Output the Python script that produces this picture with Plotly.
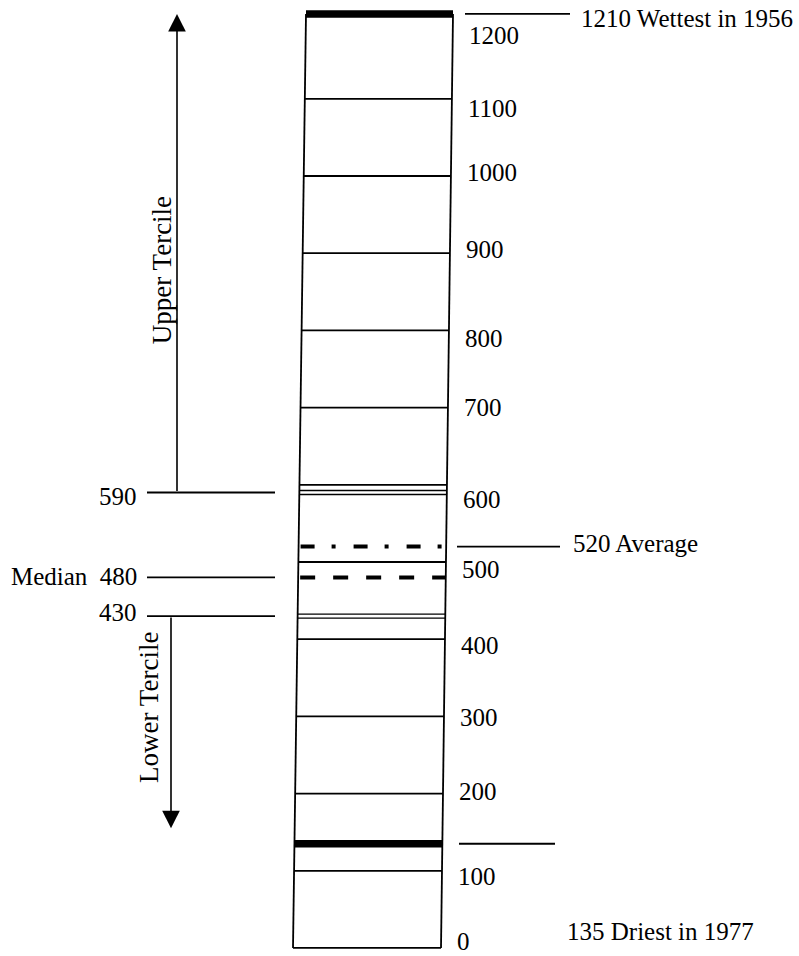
import plotly.graph_objects as go

# ---------------- data ----------------
grid_levels = [100, 200, 300, 400, 500, 600, 700, 800, 900, 1000, 1100]
tick_values = [0, 100, 200, 300, 400, 500, 600, 700, 800, 900, 1000, 1100, 1200]
tick_labels = ["0", "100", "200", "300", "400", "500", "600", "700", "800", "900", "1000", "1100", "1200"]
wettest = 1210
wettest_year = 1956
driest = 135
driest_year = 1977
average = 520
median = 480
upper_tercile = 590
lower_tercile = 430
lower_arrow_tip = 155

# ---------------- layout constants ----------------
W, H = 799, 956
Y_MIN, Y_MAX = -10.4, 1228
PX_PER_UNIT = H / (Y_MAX - Y_MIN)
FONT = "Liberation Serif"
FS = 25
LW = 1.8
# label vertical nudges in pixels (positive = up)
label_dy = [6, -6, 2, -1, -6, -8, -15, 0, -8, 4, 4, -10, -14]


def col_left(v):
    return 293 + 13 * v / 1210


def col_right(v):
    return 441 + 12 * v / 1210


def hline(v, x0, x1, width=LW, dash="solid"):
    return dict(type="line", xref="x", yref="y", x0=x0, x1=x1, y0=v, y1=v,
                line=dict(color="black", width=width, dash=dash))


shapes = []
top = wettest
# box sides and bottom
shapes.append(dict(type="line", xref="x", yref="y", x0=col_left(0), y0=0, x1=col_left(top), y1=top,
                   line=dict(color="black", width=LW)))
shapes.append(dict(type="line", xref="x", yref="y", x0=col_right(0), y0=0, x1=col_right(top), y1=top,
                   line=dict(color="black", width=LW)))
shapes.append(hline(0, col_left(0), col_right(0)))
# grid lines every 100
for v in grid_levels:
    shapes.append(hline(v, col_left(v), col_right(v)))
# thick extremes
shapes.append(hline(wettest, col_left(wettest), col_right(wettest), width=7.5))
shapes.append(hline(driest, col_left(driest), col_right(driest), width=7.5))
# double tercile lines
gap = 4 / PX_PER_UNIT
for v in (upper_tercile, lower_tercile):
    shapes.append(hline(v - gap / 2, col_left(v), col_right(v), width=1.3))
    shapes.append(hline(v + gap / 2, col_left(v), col_right(v), width=1.3))
# average (dash-dot) and median (dashed)
shapes.append(hline(average, col_left(average) + 2, col_right(average), width=4,
                    dash="14px,17px,4px,18px"))
shapes.append(hline(median, col_left(median) + 2, col_right(median), width=4,
                    dash="15px,18px"))
# right-side leader lines
shapes.append(hline(wettest, 465, 570))
shapes.append(hline(average, 457, 560))
shapes.append(hline(driest, 459, 555))
# left-side leader lines
for v in (upper_tercile, median, lower_tercile):
    shapes.append(hline(v, 147, 275))

annotations = []
# tick labels
for v, lab, dy in zip(tick_values, tick_labels, label_dy):
    annotations.append(dict(x=455 + 12 * v / 1210, y=v, xref="x", yref="y", text=lab,
                            showarrow=False, xanchor="left", yanchor="middle", yshift=dy,
                            font=dict(family=FONT, size=FS, color="black")))
# right annotations
annotations.append(dict(x=579, y=wettest, xref="x", yref="y", text=f"{wettest} Wettest in {wettest_year}",
                        showarrow=False, xanchor="left", yanchor="middle", yshift=-5,
                        font=dict(family=FONT, size=FS, color="black")))
annotations.append(dict(x=571, y=average, xref="x", yref="y", text=f"{average} Average",
                        showarrow=False, xanchor="left", yanchor="middle", yshift=3,
                        font=dict(family=FONT, size=FS, color="black")))
annotations.append(dict(x=565, y=driest, xref="x", yref="y", text=f"{driest} Driest in {driest_year}",
                        showarrow=False, xanchor="left", yanchor="middle", yshift=-88,
                        font=dict(family=FONT, size=FS, color="black")))
# left annotations
annotations.append(dict(x=139, y=upper_tercile, xref="x", yref="y", text=f"{upper_tercile}",
                        showarrow=False, xanchor="right", yanchor="middle", yshift=-4,
                        font=dict(family=FONT, size=FS, color="black")))
annotations.append(dict(x=139, y=median, xref="x", yref="y", text=f"Median\u00a0 {median}",
                        showarrow=False, xanchor="right", yanchor="middle", yshift=1,
                        font=dict(family=FONT, size=FS, color="black")))
annotations.append(dict(x=139, y=lower_tercile, xref="x", yref="y", text=f"{lower_tercile}",
                        showarrow=False, xanchor="right", yanchor="middle", yshift=4,
                        font=dict(family=FONT, size=FS, color="black")))
# tercile arrows
annotations.append(dict(x=177, y=wettest, xref="x", yref="y", ax=177, ay=upper_tercile,
                        axref="x", ayref="y", text="", showarrow=True, arrowhead=2,
                        arrowsize=2.2, arrowwidth=1.6, arrowcolor="black", standoff=0, startstandoff=0))
annotations.append(dict(x=171, y=lower_arrow_tip, xref="x", yref="y", ax=171, ay=lower_tercile,
                        axref="x", ayref="y", text="", showarrow=True, arrowhead=2,
                        arrowsize=2.2, arrowwidth=1.6, arrowcolor="black", standoff=0, startstandoff=0))
# rotated labels
annotations.append(dict(x=162, y=878, xref="x", yref="y", text="Upper Tercile", textangle=-90,
                        showarrow=False, xanchor="center", yanchor="middle",
                        font=dict(family=FONT, size=27, color="black")))
annotations.append(dict(x=149, y=311, xref="x", yref="y", text="Lower Tercile", textangle=-90,
                        showarrow=False, xanchor="center", yanchor="middle",
                        font=dict(family=FONT, size=27, color="black")))

fig = go.Figure()
fig.update_layout(
    width=W, height=H,
    margin=dict(l=0, r=0, t=0, b=0),
    paper_bgcolor="white", plot_bgcolor="white",
    xaxis=dict(range=[0, W], visible=False, fixedrange=True),
    yaxis=dict(range=[Y_MIN, Y_MAX], visible=False, fixedrange=True),
    shapes=shapes, annotations=annotations, showlegend=False,
)
fig.write_html("out.html", config={"displayModeBar": False},
               post_script="document.body.style.margin='0';document.body.style.overflow='hidden';")
